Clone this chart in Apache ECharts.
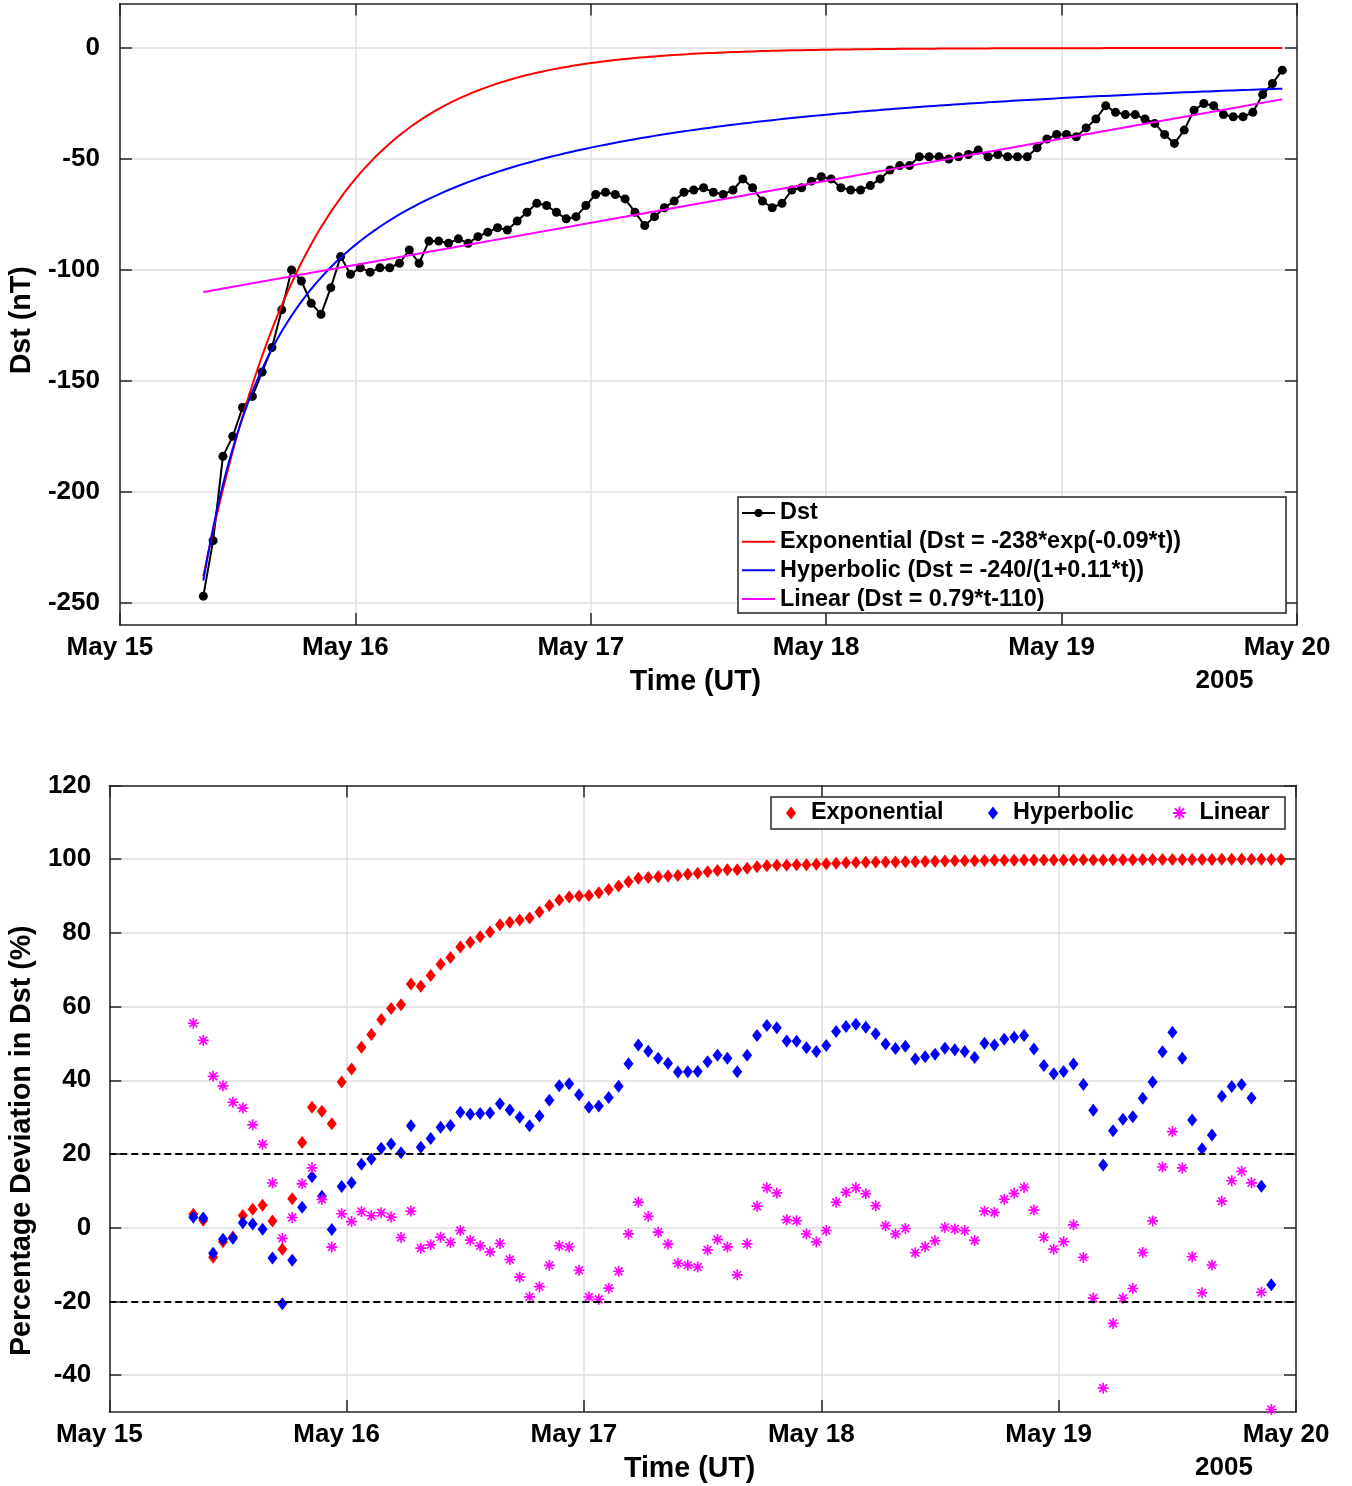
<!DOCTYPE html>
<html><head><meta charset="utf-8">
<script src="https://cdn.jsdelivr.net/npm/echarts@6/dist/echarts.min.js"></script>
<style>html,body{margin:0;padding:0;background:#fff}#c{width:1352px;height:1486px}</style>
</head><body><div id="c"></div>
<script>
// ---- data ----
const dayLabels = ['May 15', 'May 16', 'May 17', 'May 18', 'May 19', 'May 20'];
const yearLabel = '2005';
const startHour = 8.5;               // first hourly Dst value: May 15, 08:30 UT
const dst = [
  -247, -222, -184, -175, -162, -157, -146, -135, -118, -100, -105, -115, -120, -108, -94, -102,
  -99, -101, -99, -99, -97, -91, -97, -87, -87, -88, -86, -88, -85, -83, -81, -82, -78, -74, -70, -71, -74,
  -77, -76, -71, -66, -65, -66, -68, -74, -80, -76, -72, -69, -65, -64, -63, -65, -66, -64, -59, -63, -69, -72, -70,
  -64, -63, -60, -58, -59, -63, -64, -64, -62, -59, -55, -53, -53, -49, -49, -49, -50, -49, -48, -46, -49, -48,
  -49, -49, -49, -45, -41, -39, -39, -40, -36, -32, -26, -29, -30, -30, -32, -34,
  -39, -43, -37, -28, -25, -26, -30, -31, -31, -29, -21, -16, -10
];
const dstTicks = [-250, -200, -150, -100, -50, 0];
const devTicks = [-40, -20, 0, 20, 40, 60, 80, 100, 120];
const devLimits = [20, -20];
// fit parameters as printed in the legend
const expA = -238, expK = 0.09;
const hypA = -240, hypK = 0.11;
const linM = 0.79, linB = -110;
const fitSpan = 110;
const seriesNames = ['Dst', 'Exponential (Dst = -238*exp(-0.09*t))', 'Hyperbolic (Dst = -240/(1+0.11*t))', 'Linear (Dst = 0.79*t-110)'];
const devNames = ['Exponential', 'Hyperbolic', 'Linear'];

// ---- derived ----
const expModel = t => expA * Math.exp(-expK * t);
const hypModel = t => hypA / (1 + hypK * t);
const linModel = t => linM * t + linB;
const hours = dst.map((d, i) => startHour + i);
const dstData = dst.map((d, i) => [hours[i], d]);
const curve = f => { const out = []; for (let t = 0; t <= fitSpan + 1e-9; t += 0.5) out.push([startHour + t, f(t)]); return out; };
const dev = f => dst.map((d, i) => [hours[i], (d - f(i)) / d * 100]);

const FF = '"Liberation Sans", Arial, Helvetica, sans-serif';
const AX = '#262626', GRID = '#dedede';
const tickFont = { fontSize: 26, fontWeight: 'bold', color: '#000', fontFamily: FF };
const titleFont = { fontSize: 28.6, fontWeight: 'bold', color: '#000', fontFamily: FF };
const legFont = { fontSize: 23.4, fontWeight: 'bold', color: '#000', fontFamily: FF };

const diamondPath = 'path://M5,0L10,6.5L5,13L0,6.5Z';
const starPath = 'path://M-0.75,-5L0.75,-5L0.75,5L-0.75,5Z M-5,-0.75L5,-0.75L5,0.75L-5,0.75Z M-4.07,-3.01L-3.01,-4.07L4.07,3.01L3.01,4.07Z M-4.07,3.01L3.01,-4.07L4.07,-3.01L-3.01,4.07Z';
const linePath = 'path://M0,0L40,0L40,2.4L0,2.4Z';

function xAxes(gi) {
  return [{
    type: 'value', gridIndex: gi, min: 0, max: 120, interval: 24,
    axisLine: { show: true, onZero: false, lineStyle: { color: AX, width: 1.5 } },
    axisTick: { show: true, inside: true, length: 12, lineStyle: { color: AX, width: 1.5 } },
    axisLabel: Object.assign({ formatter: v => dayLabels[Math.round(v / 24)], margin: 10, padding: [0, 20, 0, 0] }, tickFont),
    splitLine: { show: true, lineStyle: { color: GRID, width: 1.5 } },
    name: 'Time (UT)', nameLocation: 'middle', nameGap: 43,
    nameTextStyle: Object.assign({ padding: [0, 26, 0, 0] }, titleFont)
  }, {
    type: 'value', gridIndex: gi, position: 'top', min: 0, max: 120, interval: 24,
    axisLine: { show: true, onZero: false, lineStyle: { color: AX, width: 1.5 } },
    axisTick: { show: true, inside: true, length: 12, lineStyle: { color: AX, width: 1.5 } },
    axisLabel: { show: false }, splitLine: { show: false }
  }];
}
function yAxes(gi, min, max, ticks, name, gap, shift, margin) {
  return [{
    type: 'value', gridIndex: gi, min, max,
    axisLine: { show: true, onZero: false, lineStyle: { color: AX, width: 1.5 } },
    axisTick: { show: true, inside: true, length: 12, customValues: ticks, lineStyle: { color: AX, width: 1.5 } },
    axisLabel: Object.assign({ customValues: ticks, margin }, tickFont),
    splitLine: { show: true, lineStyle: { color: GRID, width: 1.5 } },
    name, nameLocation: 'middle', nameGap: gap,
    nameTextStyle: Object.assign({ padding: [0, shift, 0, 0] }, titleFont)
  }, {
    type: 'value', gridIndex: gi, position: 'right', min, max,
    axisLine: { show: true, onZero: false, lineStyle: { color: AX, width: 1.5 } },
    axisTick: { show: true, inside: true, length: 12, customValues: ticks, lineStyle: { color: AX, width: 1.5 } },
    axisLabel: { show: false }, splitLine: { show: false }
  }];
}

const lineSeries = (name, data, color, z) => ({
  name, type: 'line', xAxisIndex: 0, yAxisIndex: 0, data, symbol: 'none', showSymbol: false, z,
  lineStyle: { color, width: 2 }, itemStyle: { color }, clip: true
});
const scatterSeries = (name, data, color, symbol, size, z) => ({
  name, type: 'scatter', xAxisIndex: 2, yAxisIndex: 2, data, symbol, symbolSize: size, z,
  itemStyle: { color, opacity: 1 }, clip: true
});
const devLegend = (name, icon, left) => ({
  data: [{ name, icon }], orient: 'horizontal', left, top: 798, padding: 0,
  itemWidth: 30, itemHeight: 13, itemGap: 0,
  textStyle: Object.assign({ lineHeight: 30 }, legFont), z: 10
});

const option = {
  animation: false,
  backgroundColor: '#fff',
  grid: [
    { left: 117, right: 55, top: 3.6, bottom: 861 },
    { left: 106, right: 56, top: 785.4, bottom: 74 }
  ],
  xAxis: [...xAxes(0), ...xAxes(1)],
  yAxis: [
    ...yAxes(0, -260, 20, dstTicks, 'Dst (nT)', 79, 12, 20),
    ...yAxes(1, -50, 120, devTicks, 'Percentage Deviation in Dst (%)', 70, 84, 18)
  ],
  legend: [{
    data: [{ name: seriesNames[0] }, { name: seriesNames[1], icon: linePath }, { name: seriesNames[2], icon: linePath }, { name: seriesNames[3], icon: linePath }],
    orient: 'vertical', left: 741, top: 498.6, padding: 0,
    itemWidth: 33, itemHeight: 10, itemGap: 0,
    textStyle: Object.assign({ lineHeight: 28.7 }, legFont), z: 10
  },
    devLegend(devNames[0], diamondPath, 786),
    devLegend(devNames[1], diamondPath, 988),
    devLegend(devNames[2], starPath, 1173)
  ],
  graphic: [
    { type: 'rect', z: 8, shape: { x: 738, y: 497, width: 548, height: 116 }, style: { fill: '#fff', stroke: AX, lineWidth: 1.5 } },
    { type: 'rect', z: 8, shape: { x: 771, y: 797, width: 514, height: 32 }, style: { fill: '#fff', stroke: AX, lineWidth: 1.5 } },
    { type: 'text', z: 8, x: 1224.5, y: 681, style: { text: yearLabel, fontSize: 26, fontWeight: 'bold', fontFamily: FF, fill: '#000', align: 'center', verticalAlign: 'middle' } },
    { type: 'text', z: 8, x: 1224, y: 1468, style: { text: yearLabel, fontSize: 26, fontWeight: 'bold', fontFamily: FF, fill: '#000', align: 'center', verticalAlign: 'middle' } }
  ],
  series: [
    {
      name: seriesNames[0], type: 'line', xAxisIndex: 0, yAxisIndex: 0, data: dstData,
      symbol: 'circle', symbolSize: 9, showAllSymbol: true, z: 2,
      lineStyle: { color: '#000', width: 2 }, itemStyle: { color: '#000' }
    },
    lineSeries(seriesNames[1], curve(expModel), '#ff0000', 3),
    lineSeries(seriesNames[2], curve(hypModel), '#0000ff', 3),
    lineSeries(seriesNames[3], curve(linModel), '#ff00ff', 3),
    Object.assign(scatterSeries(devNames[0], dev(expModel), '#ff0000', 'diamond', [10, 13], 2), {
      markLine: {
        silent: true, symbol: 'none', label: { show: false }, animation: false,
        lineStyle: { type: [7, 4], color: '#000', width: 2 },
        data: devLimits.map(v => ({ yAxis: v }))
      }
    }),
    scatterSeries(devNames[1], dev(hypModel), '#0000ff', 'diamond', [10, 13], 3),
    scatterSeries(devNames[2], dev(linModel), '#ff00ff', starPath, 11, 4)
  ]
};
const chart = echarts.init(document.getElementById('c'));
chart.setOption(option);
</script></body></html>
